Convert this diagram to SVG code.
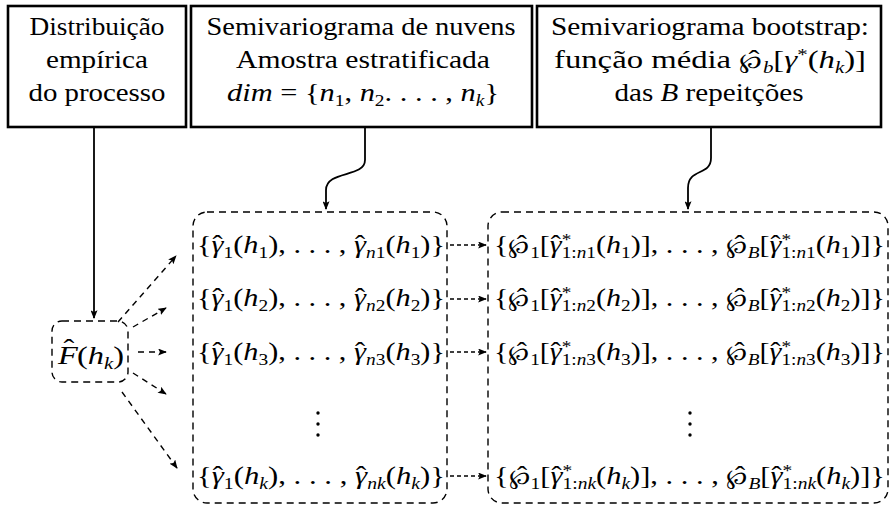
<svg xmlns="http://www.w3.org/2000/svg" width="893" height="508" viewBox="0 0 893 508" font-family="'Liberation Serif', 'DejaVu Serif', serif">
<style>
text{font-family:'Liberation Serif','DejaVu Serif',serif;fill:#000}
.hdr{font-size:25px;text-anchor:middle}
.m{font-size:25px}
.i{font-style:italic}
.s{font-size:16px}
.w{font-family:'DejaVu Serif',serif;font-size:21px}
.box{fill:#fff;stroke:#000;stroke-width:2.6}
.dbox{fill:none;stroke:#000;stroke-width:1.4;stroke-dasharray:7 5}
.c{fill:none;stroke:#000;stroke-width:1.8}
.d{fill:none;stroke:#000;stroke-width:1.4;stroke-dasharray:6 5}
.dm{fill:none;stroke:#000;stroke-width:1.3;stroke-dasharray:4 3}
</style>
<defs>
<marker id="ah" viewBox="0 0 10 8" refX="9" refY="4" markerWidth="9" markerHeight="7" markerUnits="userSpaceOnUse" orient="auto"><path d="M0,0 L10,4 L0,8 L2,4 z" fill="#000"/></marker>
</defs>
<rect width="893" height="508" fill="#fff"/>

<g id="box-distribuicao">
<rect class="box" x="8" y="6" width="178" height="121"/>
<text class="hdr" x="97" y="35" textLength="135" lengthAdjust="spacingAndGlyphs">Distribuição</text>
<text class="hdr" x="97" y="68" textLength="102" lengthAdjust="spacingAndGlyphs">empírica</text>
<text class="hdr" x="97" y="101" textLength="137" lengthAdjust="spacingAndGlyphs">do processo</text>
</g>

<g id="box-nuvens">
<rect class="box" x="191" y="6" width="341" height="121"/>
<text class="hdr" x="361" y="35" textLength="309" lengthAdjust="spacingAndGlyphs">Semivariograma de nuvens</text>
<text class="hdr" x="363" y="68" textLength="254" lengthAdjust="spacingAndGlyphs">Amostra estratificada</text>
<text class="hdr" x="363" y="101" textLength="272" lengthAdjust="spacingAndGlyphs"><tspan class="i">dim</tspan> = {<tspan class="i">n</tspan><tspan class="s" dy="5">1</tspan><tspan dy="-5">, </tspan><tspan class="i">n</tspan><tspan class="s" dy="5">2</tspan><tspan dy="-5">. . . . , </tspan><tspan class="i">n</tspan><tspan class="s i" dy="5">k</tspan><tspan dy="-5">}</tspan></text>
</g>

<g id="box-bootstrap">
<rect class="box" x="537" y="6" width="344" height="121"/>
<text class="hdr" x="710" y="35" textLength="318" lengthAdjust="spacingAndGlyphs">Semivariograma bootstrap:</text>
<text class="hdr" x="710" y="68" textLength="312" lengthAdjust="spacingAndGlyphs">função média <tspan class="w">℘</tspan><tspan dx="-11">ˆ</tspan><tspan class="s i" dx="2.7" dy="5">b</tspan><tspan dy="-5">[</tspan><tspan class="i">γ</tspan><tspan class="s" dy="-8">*</tspan><tspan dy="8">(</tspan><tspan class="i">h</tspan><tspan class="s i" dy="5">k</tspan><tspan dy="-5">)]</tspan></text>
<text class="hdr" x="709" y="101" textLength="189" lengthAdjust="spacingAndGlyphs">das <tspan class="i">B</tspan> repeitções</text>
</g>

<g id="node-F">
<rect class="dbox" x="52" y="321" width="76" height="61" rx="10"/>
<text class="m" x="58" y="364" font-size="27" textLength="66" lengthAdjust="spacingAndGlyphs"><tspan class="i">F</tspan><tspan dx="-11" dy="-7">ˆ</tspan><tspan dx="2" dy="7">(</tspan><tspan class="i">h</tspan><tspan class="s i" dy="5">k</tspan><tspan dy="-5">)</tspan></text>
</g>

<g id="node-nuvens">
<rect class="dbox" x="193" y="212" width="254" height="291" rx="14"/>
<text class="m" x="197" y="253" textLength="248" lengthAdjust="spacingAndGlyphs">{<tspan class="i">γ</tspan><tspan dx="-9">ˆ</tspan><tspan class="s" dx="0.7" dy="5">1</tspan><tspan dy="-5">(</tspan><tspan class="i">h</tspan><tspan class="s" dy="5">1</tspan><tspan dy="-5">), . . . , </tspan><tspan class="i">γ</tspan><tspan dx="-9">ˆ</tspan><tspan class="s" dx="0.7" dy="5"><tspan class="i">n</tspan>1</tspan><tspan dy="-5">(</tspan><tspan class="i">h</tspan><tspan class="s" dy="5">1</tspan><tspan dy="-5">)}</tspan></text>
<text class="m" x="197" y="306" textLength="248" lengthAdjust="spacingAndGlyphs">{<tspan class="i">γ</tspan><tspan dx="-9">ˆ</tspan><tspan class="s" dx="0.7" dy="5">1</tspan><tspan dy="-5">(</tspan><tspan class="i">h</tspan><tspan class="s" dy="5">2</tspan><tspan dy="-5">), . . . , </tspan><tspan class="i">γ</tspan><tspan dx="-9">ˆ</tspan><tspan class="s" dx="0.7" dy="5"><tspan class="i">n</tspan>2</tspan><tspan dy="-5">(</tspan><tspan class="i">h</tspan><tspan class="s" dy="5">2</tspan><tspan dy="-5">)}</tspan></text>
<text class="m" x="197" y="360" textLength="248" lengthAdjust="spacingAndGlyphs">{<tspan class="i">γ</tspan><tspan dx="-9">ˆ</tspan><tspan class="s" dx="0.7" dy="5">1</tspan><tspan dy="-5">(</tspan><tspan class="i">h</tspan><tspan class="s" dy="5">3</tspan><tspan dy="-5">), . . . , </tspan><tspan class="i">γ</tspan><tspan dx="-9">ˆ</tspan><tspan class="s" dx="0.7" dy="5"><tspan class="i">n</tspan>3</tspan><tspan dy="-5">(</tspan><tspan class="i">h</tspan><tspan class="s" dy="5">3</tspan><tspan dy="-5">)}</tspan></text>
<circle cx="318" cy="413" r="1.7"/><circle cx="318" cy="424" r="1.7"/><circle cx="318" cy="435" r="1.7"/>
<text class="m" x="197" y="484" textLength="248" lengthAdjust="spacingAndGlyphs">{<tspan class="i">γ</tspan><tspan dx="-9">ˆ</tspan><tspan class="s" dx="0.7" dy="5">1</tspan><tspan dy="-5">(</tspan><tspan class="i">h</tspan><tspan class="s i" dy="5">k</tspan><tspan dy="-5">), . . . , </tspan><tspan class="i">γ</tspan><tspan dx="-9">ˆ</tspan><tspan class="s i" dx="0.7" dy="5">nk</tspan><tspan dy="-5">(</tspan><tspan class="i">h</tspan><tspan class="s i" dy="5">k</tspan><tspan dy="-5">)}</tspan></text>
</g>

<g id="node-bootstrap">
<rect class="dbox" x="488" y="212" width="400" height="291" rx="14"/>
<text class="m" x="494" y="253" textLength="391" lengthAdjust="spacingAndGlyphs">{<tspan class="w">℘</tspan><tspan dx="-11">ˆ</tspan><tspan class="s" dx="2.7" dy="5">1</tspan><tspan dy="-5">[</tspan><tspan class="i">γ</tspan><tspan dx="-9">ˆ</tspan><tspan class="s" dx="0.7" dy="-8">*</tspan><tspan class="s" dx="-8" dy="13">1:<tspan class="i">n</tspan>1</tspan><tspan dy="-5">(</tspan><tspan class="i">h</tspan><tspan class="s" dy="5">1</tspan><tspan dy="-5">)], . . . , </tspan><tspan class="w">℘</tspan><tspan dx="-11">ˆ</tspan><tspan class="s i" dx="2.7" dy="5">B</tspan><tspan dy="-5">[</tspan><tspan class="i">γ</tspan><tspan dx="-9">ˆ</tspan><tspan class="s" dx="0.7" dy="-8">*</tspan><tspan class="s" dx="-8" dy="13">1:<tspan class="i">n</tspan>1</tspan><tspan dy="-5">(</tspan><tspan class="i">h</tspan><tspan class="s" dy="5">1</tspan><tspan dy="-5">)]}</tspan></text>
<text class="m" x="494" y="306" textLength="391" lengthAdjust="spacingAndGlyphs">{<tspan class="w">℘</tspan><tspan dx="-11">ˆ</tspan><tspan class="s" dx="2.7" dy="5">1</tspan><tspan dy="-5">[</tspan><tspan class="i">γ</tspan><tspan dx="-9">ˆ</tspan><tspan class="s" dx="0.7" dy="-8">*</tspan><tspan class="s" dx="-8" dy="13">1:<tspan class="i">n</tspan>2</tspan><tspan dy="-5">(</tspan><tspan class="i">h</tspan><tspan class="s" dy="5">2</tspan><tspan dy="-5">)], . . . , </tspan><tspan class="w">℘</tspan><tspan dx="-11">ˆ</tspan><tspan class="s i" dx="2.7" dy="5">B</tspan><tspan dy="-5">[</tspan><tspan class="i">γ</tspan><tspan dx="-9">ˆ</tspan><tspan class="s" dx="0.7" dy="-8">*</tspan><tspan class="s" dx="-8" dy="13">1:<tspan class="i">n</tspan>2</tspan><tspan dy="-5">(</tspan><tspan class="i">h</tspan><tspan class="s" dy="5">2</tspan><tspan dy="-5">)]}</tspan></text>
<text class="m" x="494" y="360" textLength="391" lengthAdjust="spacingAndGlyphs">{<tspan class="w">℘</tspan><tspan dx="-11">ˆ</tspan><tspan class="s" dx="2.7" dy="5">1</tspan><tspan dy="-5">[</tspan><tspan class="i">γ</tspan><tspan dx="-9">ˆ</tspan><tspan class="s" dx="0.7" dy="-8">*</tspan><tspan class="s" dx="-8" dy="13">1:<tspan class="i">n</tspan>3</tspan><tspan dy="-5">(</tspan><tspan class="i">h</tspan><tspan class="s" dy="5">3</tspan><tspan dy="-5">)], . . . , </tspan><tspan class="w">℘</tspan><tspan dx="-11">ˆ</tspan><tspan class="s i" dx="2.7" dy="5">B</tspan><tspan dy="-5">[</tspan><tspan class="i">γ</tspan><tspan dx="-9">ˆ</tspan><tspan class="s" dx="0.7" dy="-8">*</tspan><tspan class="s" dx="-8" dy="13">1:<tspan class="i">n</tspan>3</tspan><tspan dy="-5">(</tspan><tspan class="i">h</tspan><tspan class="s" dy="5">3</tspan><tspan dy="-5">)]}</tspan></text>
<circle cx="690" cy="413" r="1.7"/><circle cx="690" cy="424" r="1.7"/><circle cx="690" cy="435" r="1.7"/>
<text class="m" x="494" y="484" textLength="391" lengthAdjust="spacingAndGlyphs">{<tspan class="w">℘</tspan><tspan dx="-11">ˆ</tspan><tspan class="s" dx="2.7" dy="5">1</tspan><tspan dy="-5">[</tspan><tspan class="i">γ</tspan><tspan dx="-9">ˆ</tspan><tspan class="s" dx="0.7" dy="-8">*</tspan><tspan class="s" dx="-8" dy="13">1:<tspan class="i">nk</tspan></tspan><tspan dy="-5">(</tspan><tspan class="i">h</tspan><tspan class="s i" dy="5">k</tspan><tspan dy="-5">)], . . . , </tspan><tspan class="w">℘</tspan><tspan dx="-11">ˆ</tspan><tspan class="s i" dx="2.7" dy="5">B</tspan><tspan dy="-5">[</tspan><tspan class="i">γ</tspan><tspan dx="-9">ˆ</tspan><tspan class="s" dx="0.7" dy="-8">*</tspan><tspan class="s" dx="-8" dy="13">1:<tspan class="i">nk</tspan></tspan><tspan dy="-5">(</tspan><tspan class="i">h</tspan><tspan class="s i" dy="5">k</tspan><tspan dy="-5">)]}</tspan></text>
</g>

<g id="connectors">
<path class="c" d="M94,128 V318" marker-end="url(#ah)"/>
<path class="c" d="M365,128 V160 C365,178 326,170 326,190 V209" marker-end="url(#ah)"/>
<path class="c" d="M711,128 V158 C711,176 688,168 688,188 V209" marker-end="url(#ah)"/>
<path class="d" d="M118,322 L176,256" marker-end="url(#ah)"/>
<path class="d" d="M133,327 L166,308" marker-end="url(#ah)"/>
<path class="d" d="M138,352 L166,352" marker-end="url(#ah)"/>
<path class="d" d="M133,373 L166,394" marker-end="url(#ah)"/>
<path class="d" d="M122,392 L177,468" marker-end="url(#ah)"/>
<path class="dm" d="M450,245 H486" marker-end="url(#ah)"/>
<path class="dm" d="M450,299 H486" marker-end="url(#ah)"/>
<path class="dm" d="M450,352 H486" marker-end="url(#ah)"/>
<path class="dm" d="M450,476 H486" marker-end="url(#ah)"/>
</g>
</svg>
